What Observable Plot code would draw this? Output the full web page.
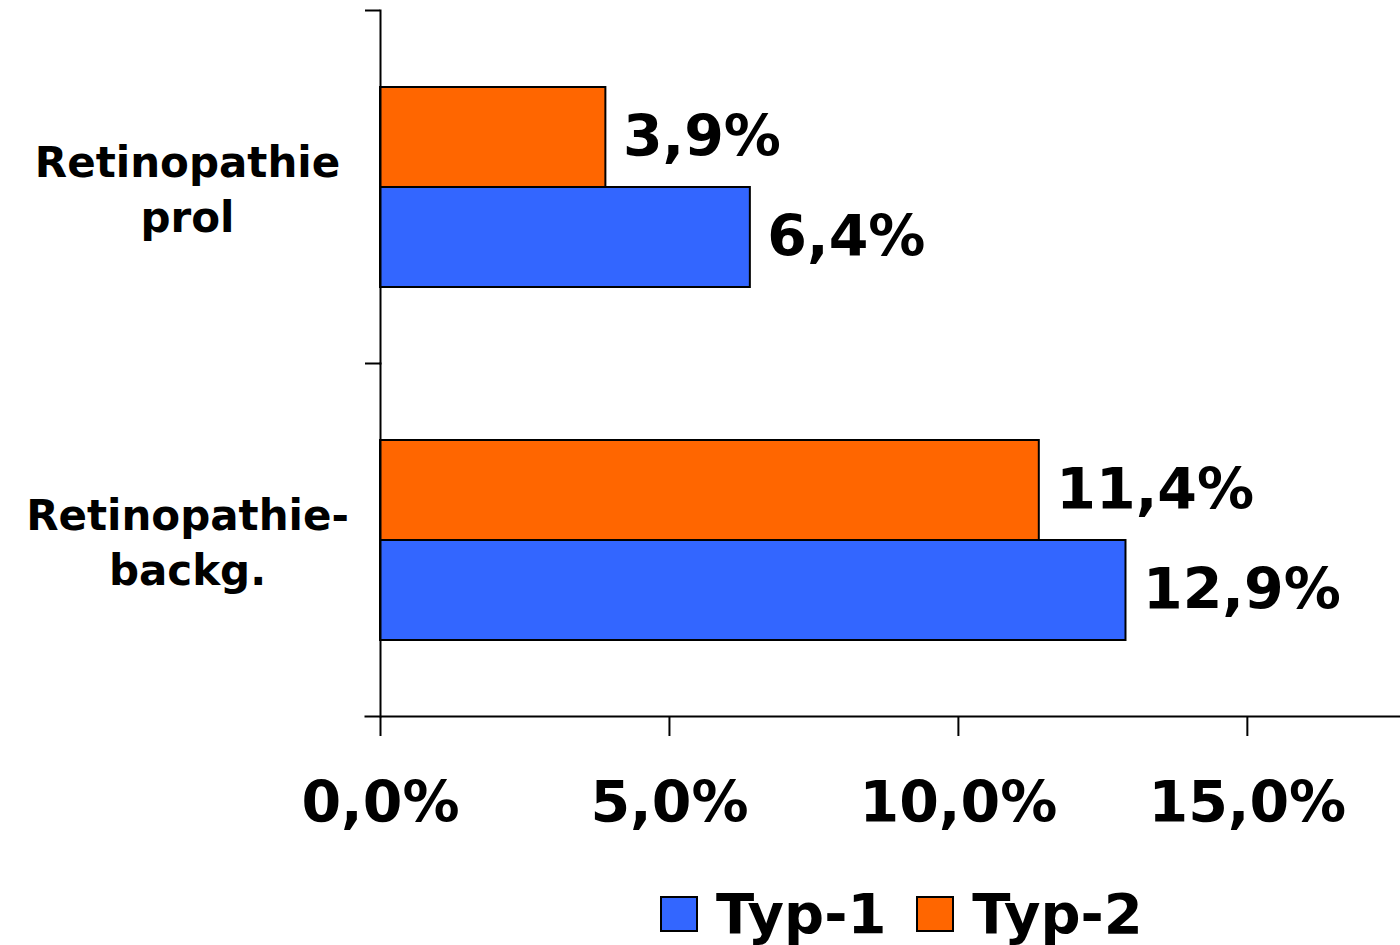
<!DOCTYPE html>
<html>
<head>
<meta charset="utf-8">
<script src="https://cdn.jsdelivr.net/npm/d3@7"></script>
<script src="https://cdn.jsdelivr.net/npm/@observablehq/plot@0.6"></script>
<style>
  html, body { margin: 0; padding: 0; background: #fff; }
  body { font-family: "DejaVu Sans", Verdana, sans-serif; }
  #wrap { position: relative; width: 1400px; height: 945px; }
  #legend { position: absolute; top: 886px; left: 660px; display: flex; align-items: center;
            font-weight: bold; font-size: 56px; line-height: 1; color: #000; }
  .sw { display: inline-block; box-sizing: border-box; width: 38px; height: 36px; border: 2px solid #000; }
  .lab { margin-left: 18px; margin-right: 30px; }
</style>
</head>
<body>
<div id="wrap"><div id="chart"></div><div id="legend"></div></div>
<script>
// Diabetic retinopathy prevalence by diabetes type
const categories = ["Retinopathie\nprol", "Retinopathie-\nbackg."];
const seriesNames = ["Typ-1", "Typ-2"];
const typ1 = [6.4, 12.9];
const typ2 = [3.9, 11.4];
const xTicks = [0, 5, 10, 15];
const seriesColors = ["#3366FF", "#FF6600"];

const rows = categories.flatMap((c, i) => [
  {category: c, series: "Typ-2", value: typ2[i]},
  {category: c, series: "Typ-1", value: typ1[i]}
]);

const W = 1400, H = 860, mt = 10, mb = 144, ml = 380;
const bandH = (H - mt - mb) / categories.length;
const fmt = v => v.toFixed(1).replace(".", ",") + "%";

const chart = Plot.plot({
  width: W, height: H,
  marginTop: mt, marginBottom: mb, marginLeft: ml, marginRight: 0,
  style: {fontFamily: "DejaVu Sans, Verdana, sans-serif", background: "#fff", color: "#000", overflow: "visible"},
  x: {domain: [0, 17.65]},
  y: {domain: ["Typ-2", "Typ-1"], paddingInner: 0, paddingOuter: 0.756, axis: null},
  fy: {domain: categories, padding: 0},
  color: {domain: seriesNames, range: seriesColors},
  marks: [
    Plot.barX(rows, {x: "value", y: "series", fy: "category", fill: "series", stroke: "#000", strokeWidth: 2}),
    Plot.text(rows, {x: "value", y: "series", fy: "category", text: d => fmt(d.value),
      textAnchor: "start", dx: 17, fontSize: 57, fontWeight: "bold", fill: "#000"}),
    Plot.text(categories, {fy: d => d, text: d => d, frameAnchor: "left", dx: -193,
      textAnchor: "middle", fontSize: 42, fontWeight: "bold", lineHeight: 1.3, fill: "#000"}),
    Plot.frame({anchor: "left", stroke: "#000", strokeWidth: 2}),
    Plot.axisFy({anchor: "left", tickFormat: () => "", tickSize: 15, dy: -bandH / 2, label: null, stroke: "#000", strokeWidth: 2}),
    Plot.frame({anchor: "bottom", facetAnchor: "bottom", insetLeft: -15, stroke: "#000", strokeWidth: 2}),
    Plot.axisX({ticks: xTicks, tickSize: 20, tickPadding: 45, tickFormat: fmt, fontSize: 57,
      fontWeight: "bold", label: null, stroke: "#000", strokeWidth: 2, fill: "#000"})
  ]
});
document.getElementById("chart").appendChild(chart);

// Legend below the chart
const legend = d3.select("#legend");
seriesNames.forEach((s, i) => {
  legend.append("span").attr("class", "sw").style("background", seriesColors[i]);
  legend.append("span").attr("class", "lab").text(s);
});
</script>
</body>
</html>
